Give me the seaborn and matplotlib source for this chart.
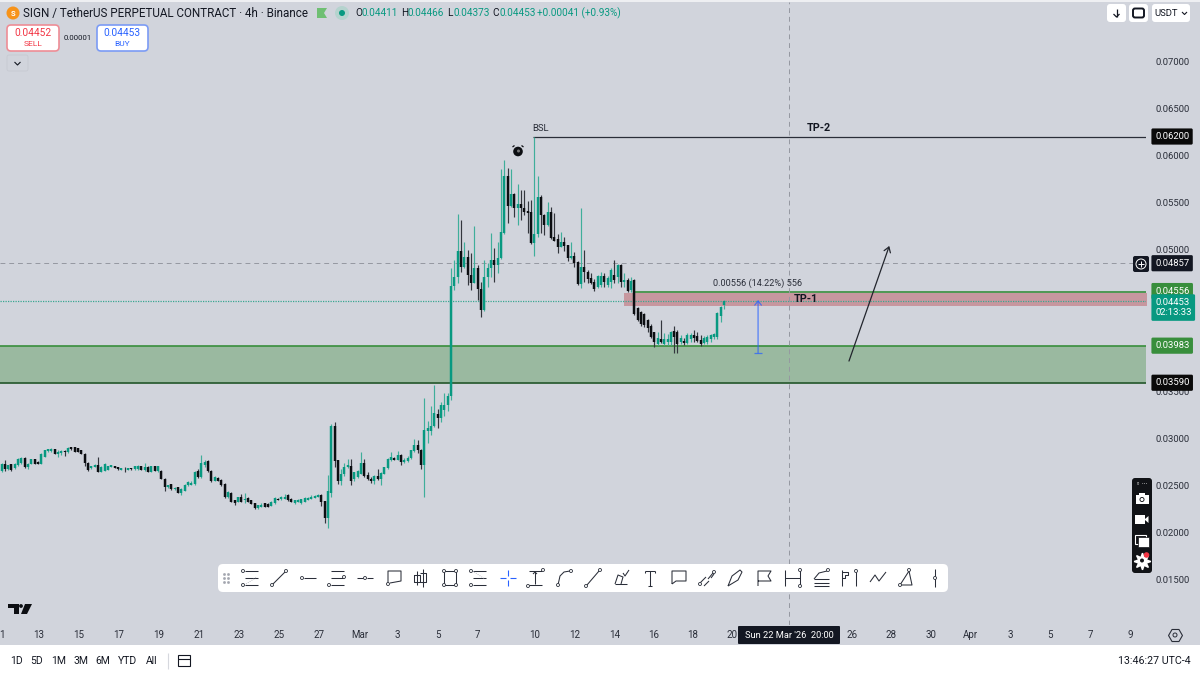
import matplotlib
matplotlib.use('Agg')
import matplotlib.pyplot as plt
from matplotlib.patches import FancyBboxPatch, Circle, Rectangle, Polygon
import numpy as np
import pandas as pd
import seaborn as sns

# candle values, in 1e-5 of a USDT
opens = [2657,2728,2671,2728,2686,2717,2735,2788,2700,2728,
         2777,2753,2728,2805,2866,2869,2883,2834,2848,2866,
         2851,2904,2904,2894,2876,2834,2742,2686,2700,2717,
         2647,2657,2664,2700,2707,2693,2664,2678,2664,2686,
         2671,2671,2707,2664,2700,2647,2707,2650,2657,2565,
         2488,2513,2460,2482,2418,2446,2506,2506,2513,2658,
         2588,2718,2764,2658,2552,2577,2559,2517,2376,2425,
         2348,2330,2383,2348,2365,2348,2312,2259,2277,2312,
         2305,2284,2312,2358,2355,2362,2400,2358,2319,2330,
         2319,2330,2348,2362,2369,2383,2404,2333,2157,2421,
         3127,2767,2545,2626,2697,2711,2570,2591,2626,2739,
         2615,2570,2545,2605,2570,2626,2686,2767,2792,2775,
         2827,2746,2757,2792,2863,2930,2880,2721,3075,3075,
         3127,3262,3216,3304,3357,3445,4617,4709,4988,4815,
         4921,4733,4652,4804,4582,4363,4709,4804,4892,4839,
         4910,5175,5782,5464,5591,5439,5485,5446,5411,5404,
         5069,5168,5563,5369,5259,5404,5132,5111,5033,5087,
         5051,4910,4935,4875,4638,4815,4769,4697,4662,4609,
         4626,4725,4626,4662,4732,4715,4838,4655,4679,4573,
         4679,4386,4344,4316,4256,4196,4125,3998,4054,3998,
         4019,4019,4139,4125,4019,4033,4008,4054,4097,4086,
         4044,4008,4019,4054,4079,4079,4302,4411]
highs = [2735,2770,2721,2731,2735,2788,2798,2798,2735,2785,
         2780,2760,2840,2880,2890,2901,2885,2876,2876,2876,
         2905,2908,2906,2898,2880,2840,2753,2712,2725,2805,
         2705,2735,2710,2720,2712,2697,2690,2693,2690,2690,
         2712,2716,2712,2735,2704,2712,2712,2712,2660,2576,
         2510,2520,2485,2490,2470,2520,2550,2550,2655,2680,
         2824,2775,2771,2665,2602,2590,2565,2522,2440,2430,
         2352,2382,2410,2425,2375,2352,2316,2298,2310,2320,
         2312,2335,2382,2365,2390,2410,2412,2365,2352,2358,
         2360,2375,2380,2395,2398,2408,2408,2340,2616,3155,
         3175,2775,2680,2735,2781,2781,2645,2660,2859,2785,
         2640,2590,2610,2680,2640,2700,2790,2860,2800,2870,
         2832,2790,2810,2880,2997,2985,2885,3427,3180,3346,
         3562,3311,3390,3480,3480,4804,4892,5376,5316,5087,
         5000,4963,5256,4840,4663,4892,4857,5175,5016,5079,
         5856,5951,5863,5852,5598,5697,5634,5634,5521,5528,
         6200,5782,5581,5376,5503,5450,5387,5168,5185,5132,
         5055,5079,4980,4882,5439,4998,4786,4750,4690,4732,
         4768,4750,4720,4803,4891,4845,4845,4750,4704,4715,
         4690,4397,4351,4330,4265,4210,4130,4132,4252,4115,
         4104,4139,4192,4150,4097,4061,4115,4115,4150,4125,
         4097,4090,4097,4108,4115,4340,4400,4466]
lows = [2647,2657,2664,2657,2680,2707,2728,2686,2671,2724,
        2724,2724,2725,2800,2860,2858,2830,2805,2823,2813,
        2848,2880,2855,2855,2830,2707,2657,2680,2695,2647,
        2645,2650,2660,2695,2682,2668,2660,2643,2660,2668,
        2665,2668,2660,2657,2647,2640,2657,2645,2565,2445,
        2478,2452,2455,2418,2405,2440,2500,2503,2510,2585,
        2577,2700,2648,2542,2545,2548,2500,2372,2370,2325,
        2295,2325,2325,2320,2325,2300,2255,2255,2272,2272,
        2272,2280,2308,2345,2350,2358,2340,2325,2305,2325,
        2305,2325,2345,2358,2365,2380,2288,2104,2051,2380,
        2700,2520,2510,2600,2690,2510,2550,2585,2620,2595,
        2560,2530,2520,2560,2510,2620,2680,2760,2770,2770,
        2715,2740,2750,2785,2855,2840,2675,2379,2951,3040,
        3120,3110,3170,3240,3290,3403,4575,4645,4769,4805,
        4628,4575,4645,4469,4292,4355,4610,4716,4663,4758,
        4905,5168,5281,5457,5344,5263,5316,5369,5182,5062,
        4935,5139,5175,5157,5252,5111,5097,4970,5026,4991,
        4885,4899,4815,4628,4592,4663,4652,4633,4563,4598,
        4609,4609,4609,4591,4644,4644,4609,4609,4549,4556,
        4309,4245,4196,4185,4125,4061,3973,3991,4008,3991,
        3991,3991,3903,3903,3998,3991,3998,4019,4019,4019,
        3984,3998,3998,4019,4054,4054,4235,4373]
closes = [2728,2671,2717,2664,2728,2777,2788,2700,2728,2777,
          2728,2728,2834,2876,2887,2887,2834,2858,2866,2858,
          2901,2883,2858,2858,2834,2742,2664,2707,2717,2647,
          2700,2728,2707,2714,2686,2671,2686,2671,2686,2671,
          2707,2710,2664,2700,2647,2707,2657,2707,2565,2488,
          2505,2460,2478,2425,2460,2506,2542,2524,2648,2588,
          2736,2753,2658,2552,2588,2552,2506,2376,2436,2330,
          2319,2376,2330,2358,2330,2305,2259,2295,2295,2277,
          2277,2330,2365,2348,2383,2383,2348,2330,2348,2348,
          2355,2365,2372,2383,2390,2397,2323,2157,2439,3127,
          2757,2545,2626,2697,2718,2545,2640,2651,2739,2605,
          2570,2545,2598,2570,2633,2693,2781,2799,2775,2827,
          2746,2775,2796,2873,2930,2873,2721,3092,3110,3135,
          3268,3216,3357,3357,3452,4620,4716,4988,4815,4928,
          4727,4652,4811,4582,4363,4709,4804,4892,4839,4910,
          5192,5782,5464,5591,5439,5485,5439,5404,5394,5069,
          5168,5556,5369,5259,5404,5122,5097,5033,5087,5040,
          4910,4935,4864,4638,4815,4769,4691,4644,4580,4725,
          4725,4655,4697,4785,4679,4838,4662,4679,4563,4669,
          4316,4256,4210,4203,4167,4079,4019,4069,4019,4054,
          4054,4132,4079,3998,4069,4008,4097,4097,4069,4033,
          3998,4061,4079,4097,4104,4326,4397,4453]

price_ticks = [0.07, 0.065, 0.06, 0.055, 0.05, 0.045, 0.04, 0.035, 0.03, 0.025, 0.02, 0.015]
date_labels = ['1', '13', '15', '17', '19', '21', '23', '25', '27', 'Mar', '3', '5', '7', '10', '12', '14',
               '16', '18', '20', '26', '28', '30', 'Apr', '3', '5', '7', '9']
date_bars = [0.2, 11.3, 23.3, 35.3, 47.3, 59.3, 71.3, 83.3, 95.3, 107.7, 119, 131, 143, 160, 172, 184,
             195.7, 207.4, 219.4, 255.4, 267, 279, 291, 303, 315, 327, 339]

tp2 = 0.062
crosshair_price = 0.04857
supply_top = 0.04556
tp1_band = (0.04405, 0.04546)
demand_top = 0.03983
demand_bottom = 0.0359
last_price = 0.04453
range_labels = ['1D', '5D', '1M', '3M', '6M', 'YTD', 'All']

BG = '#d1d4dc'
TEAL = '#089981'
INK = '#131722'
GREEN = '#388e3c'

sns.set_theme(style='white', rc={'lines.solid_capstyle': 'butt', 'figure.facecolor': BG, 'axes.facecolor': BG})
plt.rcParams['font.family'] = ['Roboto', 'DejaVu Sans']

fig = plt.figure(figsize=(12, 6.75), dpi=100)
ax = fig.add_axes([0, 50 / 675, 1146 / 1200, 623 / 675])
bar_px = 3.33
ax.set_xlim(-1.5 / bar_px, (1146 - 1.5) / bar_px)
ax.set_ylim(0.01022, 0.07626)
sns.despine(ax=ax, left=True, bottom=True, right=True, top=True)

bars = np.arange(len(opens))
o = np.array(opens) / 1e5
h = np.array(highs) / 1e5
l = np.array(lows) / 1e5
c = np.array(closes) / 1e5
side = np.where(c >= o, 'up', 'down')

wicks = pd.DataFrame({'bar': np.r_[bars, bars], 'price': np.r_[l, h], 'side': np.r_[side, side]})
bodies = pd.DataFrame({'bar': np.r_[bars, bars], 'price': np.r_[o, c], 'side': np.r_[side, side]})

# zones go under the candles
ax.axhspan(demand_bottom, demand_top, color='#9ab9a0', lw=0, zorder=1)
ax.axhline(demand_top, color=GREEN, lw=1.2, zorder=1.5)
ax.axhline(demand_bottom, color='#2e5f35', lw=1.3, zorder=1.5)
ax.fill_between([186.9, 345], tp1_band[0], tp1_band[1], color='#c7979f', lw=0, zorder=1)
ax.plot([190, 345], [supply_top, supply_top], color=GREEN, lw=1.2, zorder=1.5)
ax.plot([159.5, 345], [tp2, tp2], color='#2a2e39', lw=0.9, zorder=1.5)
ax.axhline(crosshair_price, color='#9598a1', lw=0.7, dashes=(5, 4), zorder=1.5)
ax.axhline(last_price, color='#3aa792', lw=0.9, dashes=(1, 1), zorder=1.5)
ax.axvline(236.5, color='#9598a1', lw=0.7, dashes=(5, 4), zorder=1.5)

sns.lineplot(data=wicks, x='bar', y='price', hue='side', units='bar', estimator=None, sort=False,
             palette={'up': '#3fae9a', 'down': '#33363d'}, lw=0.85, legend=False, ax=ax, zorder=3)
sns.lineplot(data=bodies, x='bar', y='price', hue='side', units='bar', estimator=None, sort=False,
             palette={'up': TEAL, 'down': '#0c0e12'}, lw=1.75, legend=False, ax=ax, zorder=3.5)

# drawings
ax.annotate('', xy=(227.2, 0.04467), xytext=(227.2, 0.03905), zorder=4,
            arrowprops=dict(arrowstyle='->,head_width=0.2,head_length=0.25', color='#2962ff', lw=0.9, alpha=0.75, shrinkA=0, shrinkB=0))
ax.plot([226, 228.4], [0.03905, 0.03905], color='#2962ff', lw=0.9, alpha=0.75, zorder=4)
ax.annotate('', xy=(266.6, 0.0504), xytext=(254.5, 0.0382), zorder=4,
            arrowprops=dict(arrowstyle='->,head_width=0.2,head_length=0.3', color='#22252d', lw=0.9, shrinkA=0, shrinkB=0))
ax.text(227, 0.04647, '0.00556 (14.22%) 556', fontsize=6.6, color='#2a2e39', ha='center', va='center', zorder=5)
ax.text(241.5, 0.04477, 'TP-1', fontsize=7.8, fontweight='bold', color=INK, ha='center', va='center', zorder=5)
ax.text(245.5, tp2 + 0.00095, 'TP-2', fontsize=7.8, fontweight='bold', color=INK, ha='center', va='center', zorder=5)
ax.text(162, tp2 + 0.0009, 'BSL', fontsize=6.8, color='#2a2e39', ha='center', va='center', zorder=5)

ax.set_yticks(price_ticks)
ax.set_yticklabels([f'{p:.5f}' for p in price_ticks])
ax.yaxis.tick_right()
ax.tick_params(axis='y', length=0, pad=6.5, labelsize=6.8, labelcolor='#2a2e39')
ax.set_xticks(date_bars)
ax.set_xticklabels(date_labels)
ax.tick_params(axis='x', length=0, pad=3.5, labelsize=7, labelcolor='#2a2e39')
ax.set_xlabel('')
ax.set_ylabel('')


def price_tag(price, text, color, fg='white'):
    ax.text(1155 / 1146, price, text, transform=ax.get_yaxis_transform(), fontsize=6.8, color=fg,
            ha='left', va='center', zorder=8, linespacing=1.2,
            bbox=dict(boxstyle='round,pad=0.38,rounding_size=0.15', fc=color, ec='none'))


price_tag(tp2, '0.06200', '#0a0a0a')
price_tag(crosshair_price, '0.04857', INK)
price_tag(supply_top + 0.00006, '0.04556', GREEN)
price_tag(last_price - 0.00066, '0.04453\n02:13:33', TEAL)
price_tag(demand_top, '0.03983', GREEN)
price_tag(demand_bottom, '0.03590', '#0a0a0a')

# screen furniture, in pixels
ui = fig.add_axes([0, 0, 1, 1], facecolor='none', zorder=10)
ui.set_xlim(0, 1200)
ui.set_ylim(675, 0)
ui.axis('off')


def box(x0, y0, x1, y1, fc='white', ec='none', lw=0.8, r=3, z=2):
    ui.add_patch(FancyBboxPatch((x0 + r, y0 + r), x1 - x0 - 2 * r, y1 - y0 - 2 * r,
                                boxstyle=f'round,pad={r},rounding_size={r}', fc=fc, ec=ec, lw=lw, zorder=z))


def txt(x, y, s, size=7.2, color='#2a2e39', ha='center', weight='normal'):
    ui.text(x, y, s, fontsize=size, color=color, ha=ha, va='center', fontweight=weight, zorder=6)


ui.add_patch(Rectangle((0, 645), 1200, 30, fc='white', ec='none', zorder=1))
ui.add_patch(Rectangle((0, 0), 1200, 2, fc='#eeeff2', ec='none', zorder=1))

# header
ui.add_patch(Circle((13, 13), 6.5, fc='#f7931a', ec='none', zorder=3))
txt(13, 13, 'S', 5.5, 'white', weight='bold')
txt(23, 13, 'SIGN / TetherUS PERPETUAL CONTRACT \u00b7 4h \u00b7 Binance', 8.35, INK, ha='left')
ui.add_patch(Polygon([(317, 8), (327, 8), (324, 13), (327, 18), (317, 18)], fc='#6fbf73', ec='none', zorder=3))
ui.add_patch(Circle((342, 13), 7, fc='#b5d3ce', ec='none', zorder=3))
ui.add_patch(Circle((342, 13), 3, fc=TEAL, ec='none', zorder=4))
for x, s, col in [(355, 'O', INK), (362, '0.04411', TEAL), (401, 'H', INK), (408, '0.04466', TEAL),
                  (447, 'L', INK), (453, '0.04373', TEAL), (492, 'C', INK), (499, '0.04453', TEAL),
                  (537, '+0.00041 (+0.93%)', TEAL)]:
    txt(x, 13, s, 7.2, col, ha='left')

# order buttons
box(7, 25, 59, 51, 'white', '#ee8d96', 1.2, 4)
txt(33, 33, '0.04452', 7.3, '#f23645')
txt(33, 44, 'SELL', 6, '#f23645')
box(97, 25, 148, 51, 'white', '#7b9bf5', 1.2, 4)
txt(122, 33, '0.04453', 7.3, '#2962ff')
txt(122, 44, 'BUY', 6, '#2962ff')
txt(78, 37.5, '0.00001', 5.6, INK)
box(7, 55, 28, 71, BG, '#c6c9d1', 0.6, 2)
ui.plot([14.5, 17.5, 20.5], [62, 65, 62], color=INK, lw=0.8, zorder=4)

# top right buttons
box(1107, 4, 1126, 22)
ui.plot([1116.5, 1116.5], [9, 17], color=INK, lw=0.9, zorder=4)
ui.plot([1113.5, 1116.5, 1119.5], [14, 17, 14], color=INK, lw=0.9, zorder=4)
box(1129, 4, 1148, 22)
box(1133, 8.5, 1144, 17.5, 'white', INK, 1.4, 2, 4)
box(1152, 4, 1190, 22)
txt(1166, 13, 'USDT', 6.8, INK)
ui.plot([1182, 1184.5, 1187], [12, 14.5, 12], color=INK, lw=0.8, zorder=4)

# plus button beside the crosshair price
box(1133, 256, 1149, 272, INK, 'none', 0, 2, 7)
ui.add_patch(Circle((1141, 264), 5, fc='none', ec='white', lw=0.7, zorder=8))
ui.plot([1138, 1144], [264, 264], color='white', lw=0.7, zorder=8)
ui.plot([1141, 1141], [261, 267], color='white', lw=0.7, zorder=8)

# alarm clock on the chart
ui.add_patch(Circle((518, 151.5), 4.8, fc='#0c0e12', ec='none', zorder=5))
ui.add_patch(Circle((518.5, 151), 1.5, fc='#777', ec='none', zorder=6))
ui.plot([512.5, 514.5], [147, 145.5], color='#0c0e12', lw=0.9, zorder=5)
ui.plot([523.5, 521.5], [147, 145.5], color='#0c0e12', lw=0.9, zorder=5)

# drawing toolbar
box(218, 564, 948, 592, 'white', 'none', 0, 5)
for gx in (224, 227.5):
    ui.plot([gx] * 3, [574, 578, 582], ls='none', marker='s', ms=0.9, color='#a3a6af', zorder=4)
tool_x = [250, 279, 308, 336, 365, 394, 421, 450, 478, 508, 535, 564, 593, 621, 650, 679, 707, 735, 764, 792, 821, 849, 878, 907, 935]
three = [[(-5, -7), (8, -7)], [(-5, 0), (8, 0)], [(-5, 7), (8, 7)]]
tool_lines = [
    three,
    [[(-6, 6), (6, -6)]],
    [[(-4, 0), (8, 0)]],
    three,
    [[(-8, 0), (-2, 0)], [(2, 0), (8, 0)]],
    [[(-6, 6), (-6, -7), (7, -7), (7, 3), (-4, 5)]],
    [[(-4, -7), (-4, 7)], [(2, -9), (2, 9)], [(-7, -3), (-1, -3), (-1, 4), (-7, 4), (-7, -3)], [(-1, -5), (5, -5), (5, 4), (-1, 4)]],
    [[(-6, -7), (6, -7), (6, 7), (-6, 7), (-6, -7)]],
    three,
    [],
    [[(-6, -7), (7, -7)], [(-6, 7), (7, 7)], [(0, -6), (0, 6)], [(-2, -4), (0, -6), (2, -4)]],
    [[(-6, 7), (-4, -2), (0, -6), (6, -7)]],
    [[(-6, 7), (6, -7)]],
    [[(-6, 6), (6, 6)], [(-6, 6), (-3, -3), (2, -1), (0, 6)], [(2, -5), (4, -2), (8, -8)]],
    [[(-5, -7), (5, -7)], [(0, -7), (0, 8)], [(-5, -7), (-5, -5)], [(5, -7), (5, -5)], [(-2, 8), (2, 8)]],
    [[(-7, 6), (-7, -7), (7, -7), (7, 3), (-3, 3), (-7, 6)]],
    [[(-7, 5), (-1, -1)], [(1, 1), (6, -5)], [(-3, 8), (2, 3)], [(4, 0), (7, -4)]],
    [[(-7, 8), (-3, -2), (5, -8), (7, -6), (3, 2), (-7, 8)]],
    [[(-6, 8), (-6, -7), (7, -7), (4, -2), (7, 3), (-6, 3)]],
    [[(-7, -8), (-7, 8)], [(8, -8), (8, 8)], [(-7, 0), (8, 0)]],
    [[(-7, 1), (8, 1)], [(-7, 5), (8, 5)], [(-7, 8), (8, 8)], [(-7, 1), (-2, -5), (6, -7)]],
    [[(-7, -8), (-7, 8)], [(-7, -6), (-1, -6), (-1, -3), (-4, -3), (-4, 0), (-7, 0)], [(7, -6), (7, 8)]],
    [[(-8, 4), (-3, -3), (1, 3), (8, -6)]],
    [[(-7, 7), (2, -7), (5, 7), (-7, 7)]],
    [[(0, -9), (0, 9)]],
]
tool_handles = [[(-7, -7), (-7, 7)], [(-7, 7), (7, -7)], [(-6, 0)], [(8, -1), (-7, 7)], [(0, 0)], [(-6, 6)], [],
                [(-6, -7), (6, -7), (6, 7), (-6, 7)], [(-7, -7), (-7, 7)], [], [(8, -8), (-7, 8)], [(-6, 7), (7, -7)],
                [(-7, 8), (7, -8)], [], [], [], [(-7, 6), (7, -6)], [], [], [(8, -8), (8, 8)], [(7, -8)], [(7, -7)], [],
                [(-7, 7), (2, -8)], [(0, 0)]]
for x, segs, handles in zip(tool_x, tool_lines, tool_handles):
    for seg in segs:
        pts = np.array(seg)
        ui.plot(x + pts[:, 0], 578 + pts[:, 1], color='#2a2e39', lw=0.75, zorder=4)
    for hx, hy in handles:
        ui.add_patch(Circle((x + hx, 578 + hy), 1.5, fc='white', ec='#2a2e39', lw=0.6, zorder=5))
for dx0, dx1, dy0, dy1 in [(-8, -2, 0, 0), (2, 8, 0, 0), (0, 0, -8, -2), (0, 0, 2, 8)]:
    ui.plot([508 + dx0, 508 + dx1], [578 + dy0, 578 + dy1], color='#2962ff', lw=0.8, zorder=4)
for x, dy in [(250, 1), (478, -1)]:
    ui.plot([x - 4, x + 7], [578 + dy * 6, 578 - dy * 1], color='#a3a6af', lw=0.6, ls=':', zorder=4)

# tradingview mark
ui.add_patch(Polygon([(8, 604), (19, 604), (19, 614), (14, 614), (14, 608), (8, 608)], fc='#0c0e12', ec='none', zorder=3))
ui.add_patch(Circle((21, 606), 1.9, fc='#0c0e12', ec='none', zorder=3))
ui.add_patch(Polygon([(25, 604), (32, 604), (27, 614), (21, 614)], fc='#0c0e12', ec='none', zorder=3))

# screenshot widget
box(1132, 478, 1152, 573, '#111317', 'none', 0, 3, 3)
txt(1142, 484, '\u25e6 \u00b7\u00b7\u00b7', 5, 'white')
ui.add_patch(Rectangle((1135.5, 495), 13, 9, fc='white', ec='none', zorder=4))
ui.add_patch(Rectangle((1139, 493), 6, 2.5, fc='white', ec='none', zorder=4))
ui.add_patch(Circle((1142, 499.5), 2.5, fc='#111317', ec='none', zorder=5))
ui.add_patch(Circle((1142, 499.5), 1.6, fc='white', ec='none', zorder=6))
ui.add_patch(Rectangle((1135, 515), 10, 9, fc='white', ec='none', zorder=4))
ui.add_patch(Polygon([(1145, 519), (1148.5, 516), (1148.5, 523), (1145, 520)], fc='white', ec='none', zorder=4))
ui.add_patch(Rectangle((1134.5, 534.5), 11, 9, fc='none', ec='white', lw=0.8, zorder=4))
ui.add_patch(Rectangle((1137.5, 537), 11, 10, fc='white', ec='#111317', lw=0.5, zorder=5))
ui.plot([1142], [560.5], marker=(8, 1, 0), ms=12, color='white', ls='none', zorder=4)
ui.add_patch(Circle((1142, 560.5), 2, fc='#111317', ec='none', zorder=5))
ui.add_patch(Circle((1146.5, 555), 2.8, fc='#f23645', ec='none', zorder=6))

# time axis extras
box(738, 626, 840, 644, INK, 'none', 0, 1, 3)
txt(789, 635, "Sun 22 Mar '26  20:00", 6.7, 'white')
ui.plot([1175], [635], marker='H', ms=10, mfc='none', mec='#2a2e39', mew=0.8, ls='none', zorder=4)
ui.add_patch(Circle((1175, 635), 2, fc='none', ec='#2a2e39', lw=0.7, zorder=4))

# bottom bar
for x, s in zip([16, 37, 59, 81, 103, 127, 152], range_labels):
    txt(x, 661, s, 7.5, INK)
ui.plot([168, 168], [653, 669], color='#d6d8de', lw=0.8, zorder=3)
ui.add_patch(Rectangle((178, 655), 12, 11, fc='none', ec=INK, lw=0.8, zorder=3))
ui.plot([178, 190], [658.5, 658.5], color=INK, lw=0.8, zorder=3)
txt(1191, 661, '13:46:27 UTC-4', 7.7, INK, ha='right')

fig.savefig('out.png', dpi=100, facecolor=BG)
